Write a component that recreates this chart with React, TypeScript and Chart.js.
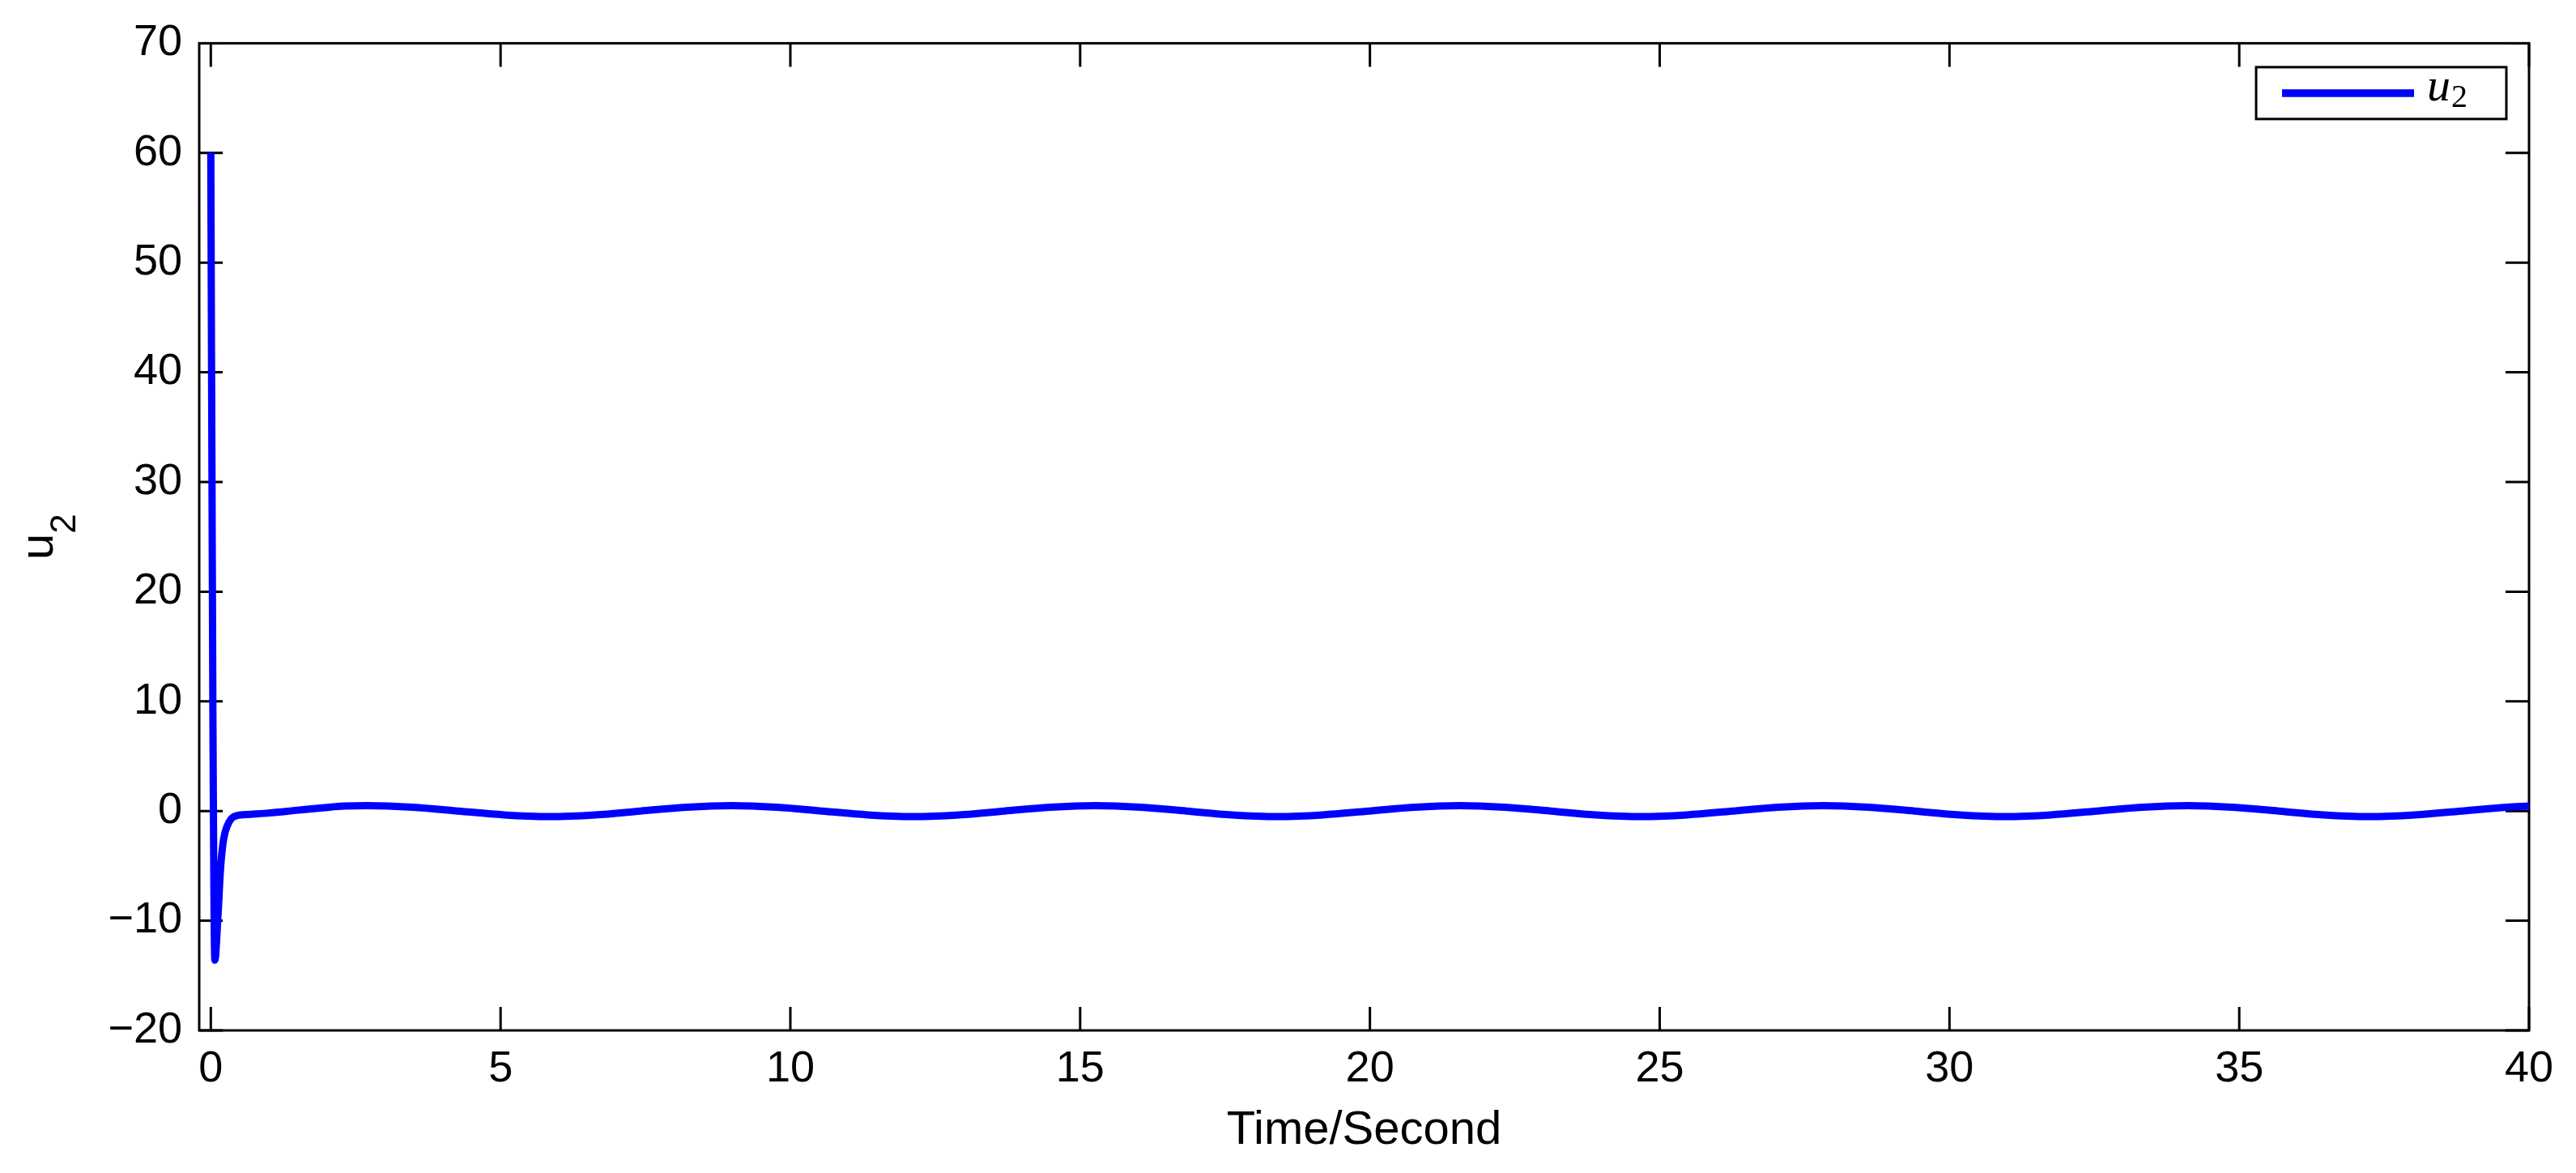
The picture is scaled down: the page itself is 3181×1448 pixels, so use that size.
import React, { useEffect, useRef } from 'react';
import { Chart, registerables } from 'chart.js';

Chart.register(...registerables);

// ---- data ----
const timeValues = [
  0, 0.035, 0.07, 0.12, 0.17, 0.22, 0.28, 0.4, 0.6, 1.0, 1.5, 2.0, 2.3,
  2.7, 3.49, 4.27, 5.06, 5.84, 6.63, 7.41, 8.2,
  8.98, 9.77, 10.55, 11.34, 12.12, 12.91, 13.69, 14.48,
  15.27, 16.05, 16.84, 17.62, 18.41, 19.19, 19.98, 20.76,
  21.55, 22.33, 23.12, 23.9, 24.69, 25.47, 26.26, 27.04,
  27.83, 28.61, 29.4, 30.18, 30.97, 31.75, 32.54, 33.32,
  34.11, 34.89, 35.68, 36.46, 37.25, 38.03, 38.83, 39.61, 40.0,
];
const u2Values = [
  60, 10, -13.6, -9.9, -5.1, -2.6, -1.4, -0.5, -0.32, -0.18, 0.08, 0.33, 0.45,
  0.5, 0.35, 0, -0.35, -0.5, -0.35, 0, 0.35,
  0.5, 0.35, 0, -0.35, -0.5, -0.35, 0, 0.35,
  0.5, 0.35, 0, -0.35, -0.5, -0.35, 0, 0.35,
  0.5, 0.35, 0, -0.35, -0.5, -0.35, 0, 0.35,
  0.5, 0.35, 0, -0.35, -0.5, -0.35, 0, 0.35,
  0.5, 0.35, 0, -0.35, -0.5, -0.35, 0, 0.35, 0.46,
];
const xTickValues = [0, 5, 10, 15, 20, 25, 30, 35, 40];
const yTickValues = [-20, -10, 0, 10, 20, 30, 40, 50, 60, 70];
const xAxisTitle = 'Time/Second';
const yAxisTitleMain = 'u';
const yAxisTitleSub = '2';
const legendMain = 'u';
const legendSub = '2';

const SANS = '"Liberation Sans", Arial, Helvetica, sans-serif';
const SERIF = '"Liberation Serif", "Times New Roman", serif';
const LINE_COLOR = '#0000ff';

const framePlugin = {
  id: 'matlabFrame',
  beforeDatasetsDraw(chart: any) {
    const { ctx, chartArea: a, scales } = chart;
    const x = scales.x;
    const y = scales.y;
    const tl = 29;
    ctx.save();
    ctx.strokeStyle = '#000';
    ctx.lineWidth = 3;
    ctx.beginPath();
    for (const v of xTickValues) {
      const px = x.getPixelForValue(v);
      ctx.moveTo(px, a.bottom);
      ctx.lineTo(px, a.bottom - tl);
      ctx.moveTo(px, a.top);
      ctx.lineTo(px, a.top + tl);
    }
    for (const v of yTickValues) {
      const py = y.getPixelForValue(v);
      ctx.moveTo(a.left, py);
      ctx.lineTo(a.left + tl, py);
      ctx.moveTo(a.right, py);
      ctx.lineTo(a.right - tl, py);
    }
    ctx.stroke();
    ctx.strokeRect(a.left, a.top, a.right - a.left, a.bottom - a.top);
    ctx.restore();
  },
  afterDatasetsDraw(chart: any) {
    const { ctx, chartArea: a } = chart;
    ctx.save();
    // legend box
    const bx0 = a.right - 337;
    const bx1 = a.right - 28;
    const by0 = a.top + 29.5;
    const by1 = a.top + 93.5;
    ctx.fillStyle = '#fff';
    ctx.fillRect(bx0, by0, bx1 - bx0, by1 - by0);
    ctx.strokeStyle = '#000';
    ctx.lineWidth = 3;
    ctx.strokeRect(bx0, by0, bx1 - bx0, by1 - by0);
    ctx.strokeStyle = LINE_COLOR;
    ctx.lineWidth = 9.5;
    ctx.beginPath();
    ctx.moveTo(bx0 + 32, a.top + 61.5);
    ctx.lineTo(bx0 + 195, a.top + 61.5);
    ctx.stroke();
    ctx.fillStyle = '#000';
    ctx.textAlign = 'left';
    ctx.textBaseline = 'alphabetic';
    ctx.font = `italic 58px ${SERIF}`;
    ctx.fillText(legendMain, bx0 + 211, a.top + 71);
    const uw = ctx.measureText(legendMain).width;
    ctx.font = `40px ${SERIF}`;
    ctx.fillText(legendSub, bx0 + 211 + uw + 1, a.top + 78.5);
    ctx.restore();
  },
  afterDraw(chart: any) {
    const { ctx, chartArea: a } = chart;
    ctx.save();
    ctx.fillStyle = '#000';
    // x title
    ctx.font = `58px ${SANS}`;
    ctx.textAlign = 'center';
    ctx.textBaseline = 'alphabetic';
    ctx.fillText(xAxisTitle, (a.left + a.right) / 2, a.bottom + 140);
    // y title (rotated, with subscript)
    const cy = (a.top + a.bottom) / 2;
    ctx.translate(65, cy);
    ctx.rotate(-Math.PI / 2);
    ctx.textAlign = 'left';
    ctx.font = `58px ${SANS}`;
    const mw = ctx.measureText(yAxisTitleMain).width;
    ctx.font = `44px ${SANS}`;
    const sw = ctx.measureText(yAxisTitleSub).width;
    const x0 = -(mw + sw) / 2;
    ctx.font = `58px ${SANS}`;
    ctx.fillText(yAxisTitleMain, x0, 0);
    ctx.font = `44px ${SANS}`;
    ctx.fillText(yAxisTitleSub, x0 + mw, 28);
    ctx.restore();
  },
};

const minusFix = (v: any) => String(v).replace('-', '\u2212');

export default function App() {
  const canvasRef = useRef<HTMLCanvasElement | null>(null);

  useEffect(() => {
    if (!canvasRef.current) return;
    const points = timeValues.map((t, i) => ({ x: t, y: u2Values[i] }));
    const chart = new Chart(canvasRef.current, {
      type: 'line',
      data: {
        datasets: [
          {
            label: 'u2',
            data: points,
            borderColor: LINE_COLOR,
            backgroundColor: LINE_COLOR,
            borderWidth: 9,
            pointRadius: 0,
            pointHoverRadius: 0,
            cubicInterpolationMode: 'monotone',
            borderCapStyle: 'butt',
            borderJoinStyle: 'round',
            fill: false,
          },
        ],
      },
      options: {
        animation: false,
        responsive: false,
        devicePixelRatio: 1,
        events: [],
        layout: { padding: { left: 0, right: 58, top: 36, bottom: 0 } },
        plugins: {
          legend: { display: false },
          tooltip: { enabled: false },
          title: { display: false },
        },
        scales: {
          x: {
            type: 'linear',
            min: -0.2,
            max: 40,
            grid: { display: false, drawTicks: false },
            border: { display: false },
            afterBuildTicks: (scale: any) => {
              scale.ticks = xTickValues.map((v) => ({ value: v }));
            },
            afterFit: (scale: any) => {
              scale.height = 176;
            },
            ticks: {
              color: '#000',
              font: { family: SANS, size: 54 },
              padding: 16,
              maxRotation: 0,
              autoSkip: false,
              callback: minusFix,
            },
          },
          y: {
            type: 'linear',
            min: -20,
            max: 70,
            grid: { display: false, drawTicks: false },
            border: { display: false },
            afterBuildTicks: (scale: any) => {
              scale.ticks = yTickValues.map((v) => ({ value: v }));
            },
            afterFit: (scale: any) => {
              scale.width = 246;
            },
            ticks: {
              color: '#000',
              font: { family: SANS, size: 54 },
              padding: 21,
              autoSkip: false,
              callback: minusFix,
            },
          },
        },
      },
      plugins: [framePlugin],
    } as any);
    return () => chart.destroy();
  }, []);

  return (
    <div style={{ position: 'absolute', left: 0, top: 0, width: 3181, height: 1448, background: '#fff' }}>
      <canvas ref={canvasRef} width={3181} height={1448} style={{ display: 'block', width: 3181, height: 1448 }} />
    </div>
  );
}
